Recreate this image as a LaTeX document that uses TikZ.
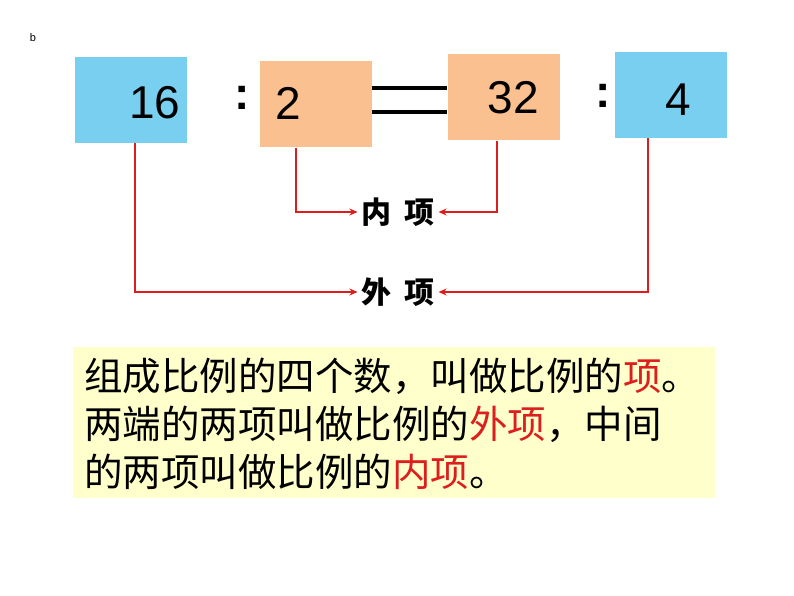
\documentclass[tikz,border=0pt]{standalone}
\usepackage{fontspec}
\setmainfont{Liberation Sans}
\newfontfamily\cjk{Noto Sans CJK SC}
\definecolor{bluebox}{RGB}{121,207,240}
\definecolor{orangebox}{RGB}{250,192,144}
\definecolor{yell}{RGB}{255,255,204}
\definecolor{redc}{RGB}{220,30,30}
\usetikzlibrary{arrows.meta}
\begin{document}
\begin{tikzpicture}[x=1pt,y=-1pt,
  numbox/.style={minimum width=112pt,minimum height=86pt,inner sep=0pt},
  num/.style={font=\fontsize{46}{50}\selectfont},
  colon/.style={font=\bfseries\fontsize{46}{50}\selectfont},
  conn/.style={draw=redc,line width=1.3pt,-{Stealth[length=8pt,width=7pt]}},
  lab/.style={font=\cjk\bfseries\fontsize{30}{34}\selectfont}]
\useasboundingbox (0,0) rectangle (794,596);
\node[font=\fontsize{11}{12}\selectfont] (b) at (33,38) {b};
\node[numbox,fill=bluebox] (A) at (131,100) {};
\node[num] (At) at (155,103) {16};
\node[colon] (c1) at (242,98) {:};
\node[numbox,fill=orangebox] (B) at (316,104.5) {};
\node[num] (Bt) at (288,103) {2};
\node[numbox,fill=orangebox] (C) at (504,97.5) {};
\node[num] (Ct) at (513,98) {32};
\node[colon] (c2) at (603,96) {:};
\node[numbox,fill=bluebox] (D) at (671,95) {};
\node[num] (Dt) at (678,100) {4};
\coordinate (e1) at (372,88); \coordinate (e2) at (447,88);
\coordinate (e3) at (372,112); \coordinate (e4) at (447,112);
\draw[line width=4pt] (e1) -- (e2);
\draw[line width=4pt] (e3) -- (e4);
\node[lab] (inner) at (398,212) {内\hspace{14pt}项};
\node[lab] (outer) at (398,292) {外\hspace{14pt}项};
\draw[conn] (B.south -| 296,0) |- (inner.west);
\draw[conn] (C.south -| 497,0) |- (inner.east);
\draw[conn] (A.south -| 135,0) |- (outer.west);
\draw[conn] (D.south -| 648,0) |- (outer.east);
\node[fill=yell,minimum width=642pt,minimum height=151pt,inner sep=0pt] (Y) at (394,422.5) {};
\node[anchor=west,font=\cjk\fontsize{38.5}{48}\selectfont,align=left,inner sep=0pt] (T) at (84,424)
 {组成比例的四个数，叫做比例的\textcolor{redc}{项}。\\
  两端的两项叫做比例的\textcolor{redc}{外项}，中间\\
  的两项叫做比例的\textcolor{redc}{内项}。};
\end{tikzpicture}
\end{document}
